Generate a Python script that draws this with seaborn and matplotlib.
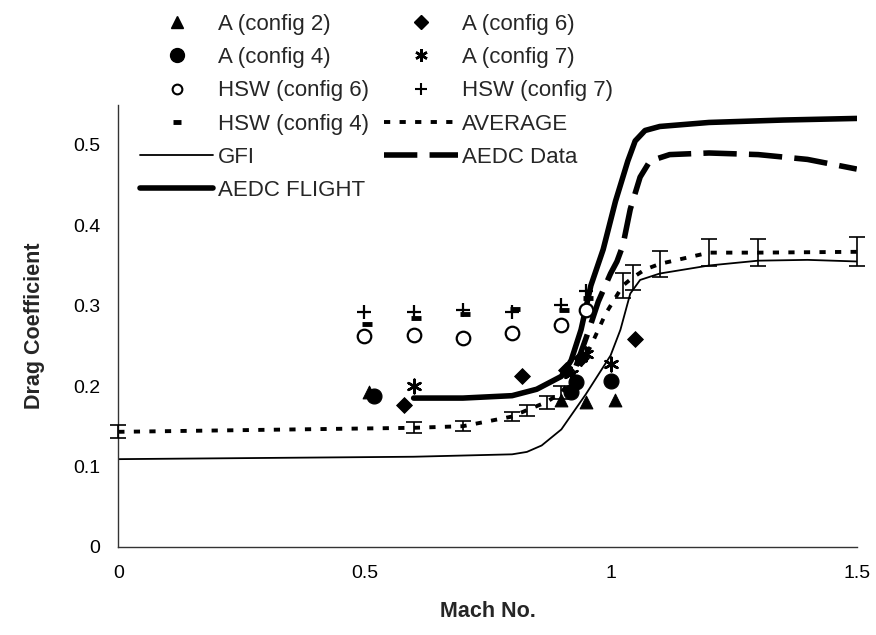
import numpy as np
import pandas as pd
import matplotlib
matplotlib.use("Agg")
import matplotlib.pyplot as plt
import seaborn as sns
from matplotlib.lines import Line2D

# ---------------- data ----------------
a2_mach = [0.51, 0.90, 0.95, 1.01]
a2_cd = [0.193, 0.183, 0.180, 0.183]

a4_mach = [0.52, 0.92, 0.93, 1.00]
a4_cd = [0.187, 0.193, 0.205, 0.206]

a6_mach = [0.58, 0.82, 0.91, 0.94, 1.05]
a6_cd = [0.176, 0.213, 0.220, 0.235, 0.258]

a7_mach = [0.60, 0.92, 0.95, 1.00]
a7_cd = [0.200, 0.215, 0.240, 0.228]

hsw6_mach = [0.50, 0.60, 0.70, 0.80, 0.90, 0.95]
hsw6_cd = [0.262, 0.264, 0.260, 0.266, 0.276, 0.295]

hsw7_mach = [0.50, 0.60, 0.70, 0.80, 0.90, 0.95]
hsw7_cd = [0.292, 0.292, 0.295, 0.292, 0.301, 0.318]

hsw4_mach = [0.505, 0.605, 0.705, 0.805, 0.905, 0.955]
hsw4_cd = [0.277, 0.285, 0.290, 0.296, 0.295, 0.310]

gfi_mach = [0, 0.2, 0.4, 0.6, 0.8, 0.83, 0.86, 0.90, 0.95, 1.00, 1.02, 1.04, 1.06, 1.10, 1.20, 1.30, 1.40, 1.50]
gfi_cd = [0.109, 0.110, 0.111, 0.112, 0.115, 0.118, 0.126, 0.146, 0.190, 0.238, 0.270, 0.315, 0.332, 0.340, 0.350, 0.356, 0.357, 0.355]

flight_mach = [0.60, 0.70, 0.80, 0.85, 0.90, 0.92, 0.94, 0.96, 0.985, 1.01, 1.035, 1.05, 1.07, 1.10, 1.20, 1.35, 1.50]
flight_cd = [0.185, 0.185, 0.188, 0.196, 0.212, 0.232, 0.270, 0.325, 0.370, 0.430, 0.480, 0.505, 0.518, 0.523, 0.528, 0.531, 0.533]

aedc_mach = [0.93, 0.955, 0.975, 1.00, 1.013, 1.025, 1.04, 1.06, 1.08, 1.12, 1.20, 1.30, 1.40, 1.50]
aedc_cd = [0.225, 0.268, 0.305, 0.340, 0.355, 0.375, 0.420, 0.460, 0.480, 0.488, 0.490, 0.488, 0.482, 0.470]

avg_mach = [0, 0.6, 0.7, 0.8, 0.83, 0.87, 0.90, 0.93, 0.96, 0.99, 1.025, 1.045, 1.07, 1.10, 1.20, 1.30, 1.50]
avg_cd = [0.143, 0.148, 0.150, 0.162, 0.170, 0.180, 0.192, 0.215, 0.250, 0.290, 0.325, 0.335, 0.345, 0.352, 0.366, 0.366, 0.367]

bar_mach = [0, 0.6, 0.7, 0.8, 0.83, 0.87, 0.90, 1.025, 1.045, 1.10, 1.20, 1.30, 1.50]
bar_cd = [0.143, 0.148, 0.150, 0.162, 0.170, 0.180, 0.192, 0.325, 0.335, 0.352, 0.366, 0.366, 0.367]
bar_err = [0.008, 0.007, 0.006, 0.006, 0.007, 0.008, 0.008, 0.016, 0.015, 0.016, 0.017, 0.017, 0.018]

x_ticks = [0, 0.5, 1, 1.5]
x_ticklabels = ["0", "0.5", "1", "1.5"]
y_ticks = [0, 0.1, 0.2, 0.3, 0.4, 0.5]
y_ticklabels = ["0", "0.1", "0.2", "0.3", "0.4", "0.5"]

# ---------------- plot ----------------
sns.set_style("white")
plt.rcParams['font.family'] = ['Liberation Sans', 'DejaVu Sans']

fig = plt.figure(figsize=(8.76, 6.35), dpi=100)
ax = fig.add_axes([0.135, 0.139, 0.843, 0.696])

K = "black"

sns.lineplot(x=gfi_mach, y=gfi_cd, ax=ax, color=K, lw=1.3, sort=False)
sns.lineplot(x=flight_mach, y=flight_cd, ax=ax, color=K, lw=4.0, sort=False)
sns.lineplot(x=aedc_mach, y=aedc_cd, ax=ax, color=K, lw=4.0, sort=False,
             linestyle=(0, (6, 2.2)))
sns.lineplot(x=avg_mach, y=avg_cd, ax=ax, color=K, lw=2.8, sort=False,
             linestyle=(0, (1.6, 2.4)))
eb = ax.errorbar(bar_mach, bar_cd, yerr=bar_err, fmt="none", ecolor=K,
                 elinewidth=1.2, capsize=6, capthick=1.2, zorder=3)
for art in eb.lines[1] + eb.lines[2]:
    art.set_clip_on(False)

sns.scatterplot(x=a2_mach, y=a2_cd, ax=ax, marker="^", s=85, color=K, edgecolor=K, zorder=4)
sns.scatterplot(x=a4_mach, y=a4_cd, ax=ax, marker="o", s=115, color=K, edgecolor=K, zorder=4)
sns.scatterplot(x=a6_mach, y=a6_cd, ax=ax, marker="D", s=65, color=K, edgecolor=K, zorder=4)
sns.scatterplot(x=a7_mach, y=a7_cd, ax=ax, marker=(6, 2, 0), s=95, color=K, linewidth=1.8, zorder=4)
sns.scatterplot(x=hsw6_mach, y=hsw6_cd, ax=ax, marker="o", s=95, facecolor="white",
                edgecolor=K, linewidth=1.6, zorder=4)
sns.scatterplot(x=hsw7_mach, y=hsw7_cd, ax=ax, marker="+", s=95, color=K, linewidth=1.6, zorder=4)
sns.scatterplot(x=hsw4_mach, y=hsw4_cd, ax=ax, marker="_", s=45, color=K, linewidth=3.5, zorder=4)

ax.set_xlim(0, 1.5)
ax.set_ylim(0, 0.55)
ax.set_xticks(x_ticks)
ax.set_xticklabels(x_ticklabels)
ax.set_yticks(y_ticks)
ax.set_yticklabels(y_ticklabels)
ax.tick_params(axis="both", direction="inout", length=10, width=1, colors=K,
               labelsize=14, pad=8)
for side in ["top", "right"]:
    ax.spines[side].set_visible(False)
for side in ["left", "bottom"]:
    ax.spines[side].set_color("#333333")
    ax.spines[side].set_linewidth(1.0)

ax.set_xlabel("Mach No.", fontsize=15.5, fontweight="bold", labelpad=14)
ax.set_ylabel("Drag Coefficient", fontsize=15.5, fontweight="bold", labelpad=20)

handles = [
    Line2D([], [], ls="none", marker="^", ms=8, color=K),
    Line2D([], [], ls="none", marker="o", ms=10, color=K),
    Line2D([], [], ls="none", marker="o", ms=7, mfc="white", mec=K, mew=1.5),
    Line2D([], [], ls="none", marker="_", ms=6, mew=3.5, color=K),
    Line2D([], [], color=K, lw=1.3),
    Line2D([], [], color=K, lw=4.0),
    Line2D([], [], ls="none", marker="D", ms=7, color=K),
    Line2D([], [], ls="none", marker=(6, 2, 0), ms=9, mew=1.8, color=K),
    Line2D([], [], ls="none", marker="+", ms=9, mew=1.5, color=K),
    Line2D([], [], color=K, lw=2.8, ls=(0, (1.6, 2.4))),
    Line2D([], [], color=K, lw=4.0, ls=(0, (6, 2.2))),
]
labels = ["A (config 2)", "A (config 4)", "HSW (config 6)", "HSW (config 4)", "GFI",
          "AEDC FLIGHT", "A (config 6)", "A (config 7)", "HSW (config 7)", "AVERAGE",
          "AEDC Data"]
fig.legend(handles, labels, ncol=2, loc="upper left", bbox_to_anchor=(0.16, 0.978),
           frameon=False, fontsize=16, handlelength=3.3, handletextpad=0.2,
           columnspacing=0.7, labelspacing=0.55, borderpad=0, borderaxespad=0,
           numpoints=1)

fig.savefig("out.png", dpi=100)
